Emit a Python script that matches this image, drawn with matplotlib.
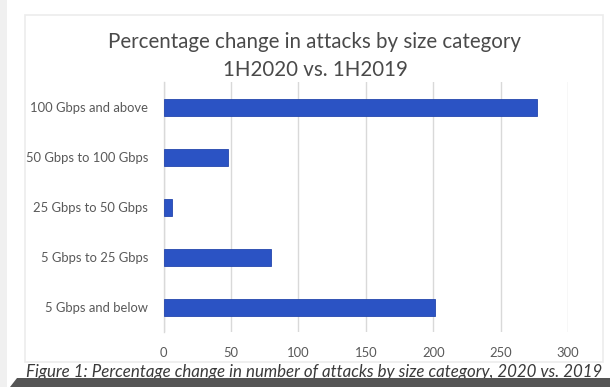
import matplotlib
matplotlib.use("Agg")
import matplotlib.pyplot as plt
from matplotlib.patches import Rectangle, Polygon

plt.rcParams['font.family'] = ['Lato', 'DejaVu Sans']

categories = ["5 Gbps and below", "5 Gbps to 25 Gbps", "25 Gbps to 50 Gbps",
              "50 Gbps to 100 Gbps", "100 Gbps and above"]
pct_change = [201, 80, 6.5, 48, 277]
x_ticks = [0, 50, 100, 150, 200, 250, 300]

W, H = 610, 387
fig = plt.figure(figsize=(W / 100, H / 100), dpi=100)
fig.patch.set_facecolor("white")

def fx(px):
    return px / W

def fy(py):
    return 1 - py / H

# page strip on the left and the chart panel frame
fig.patches.append(Rectangle((0, 0), fx(7), 1, transform=fig.transFigure,
                             facecolor="#f0f0f0", edgecolor="none", zorder=-2))
fig.patches.append(Rectangle((fx(25), fy(362)), fx(603 - 25), fy(15) - fy(362),
                             transform=fig.transFigure, facecolor="white",
                             edgecolor="#ececec", linewidth=1.2, zorder=-1))

ax = fig.add_axes([fx(163.5), fy(332), fx(568 - 163.5), fy(82) - fy(332)])
ax.set_zorder(2)
ax.set_facecolor("none")
ax.barh(range(len(categories)), pct_change, height=0.34, color="#2b53c4",
        edgecolor="#2447ad", linewidth=0.6, zorder=3)
ax.set_xlim(0, 300)
ax.set_ylim(-0.5, len(categories) - 0.5)
ax.set_yticks(range(len(categories)))
ax.set_yticklabels(categories, fontsize=9.4, color="#595959")
ax.set_xticks(x_ticks)
ax.set_xticklabels([str(t) for t in x_ticks], fontsize=9.4, color="#595959")
ax.tick_params(axis="both", length=0)
ax.tick_params(axis="y", pad=11)
ax.tick_params(axis="x", pad=11)
ax.grid(axis="x", color="#d9d9d9", linewidth=1.0, zorder=0)
for side in ["top", "right", "bottom"]:
    ax.spines[side].set_visible(False)
ax.spines["left"].set_color("#d9d9d9")
ax.spines["left"].set_linewidth(1.0)

fig.text(fx(315), fy(42), "Percentage change in attacks by size category",
         ha="center", va="center", fontsize=14.8, color="#4a4a4a", zorder=3)
fig.text(fx(315), fy(70), "1H2020 vs. 1H2019",
         ha="center", va="center", fontsize=14.8, color="#4a4a4a", zorder=3)

fig.text(fx(26), fy(372), "Figure 1: Percentage change in number of attacks by size category, 2020 vs. 2019",
         ha="left", va="center", fontsize=12.2, style="italic", color="#3a3a3a", zorder=3)

# dark band along the bottom edge
fig.patches.append(Polygon([(fx(10), 0), (fx(17), fy(378)), (1, fy(378)), (1, 0)],
                           closed=True, transform=fig.transFigure,
                           facecolor="#555555", edgecolor="none", zorder=5))

fig.savefig("out.png", dpi=100)
